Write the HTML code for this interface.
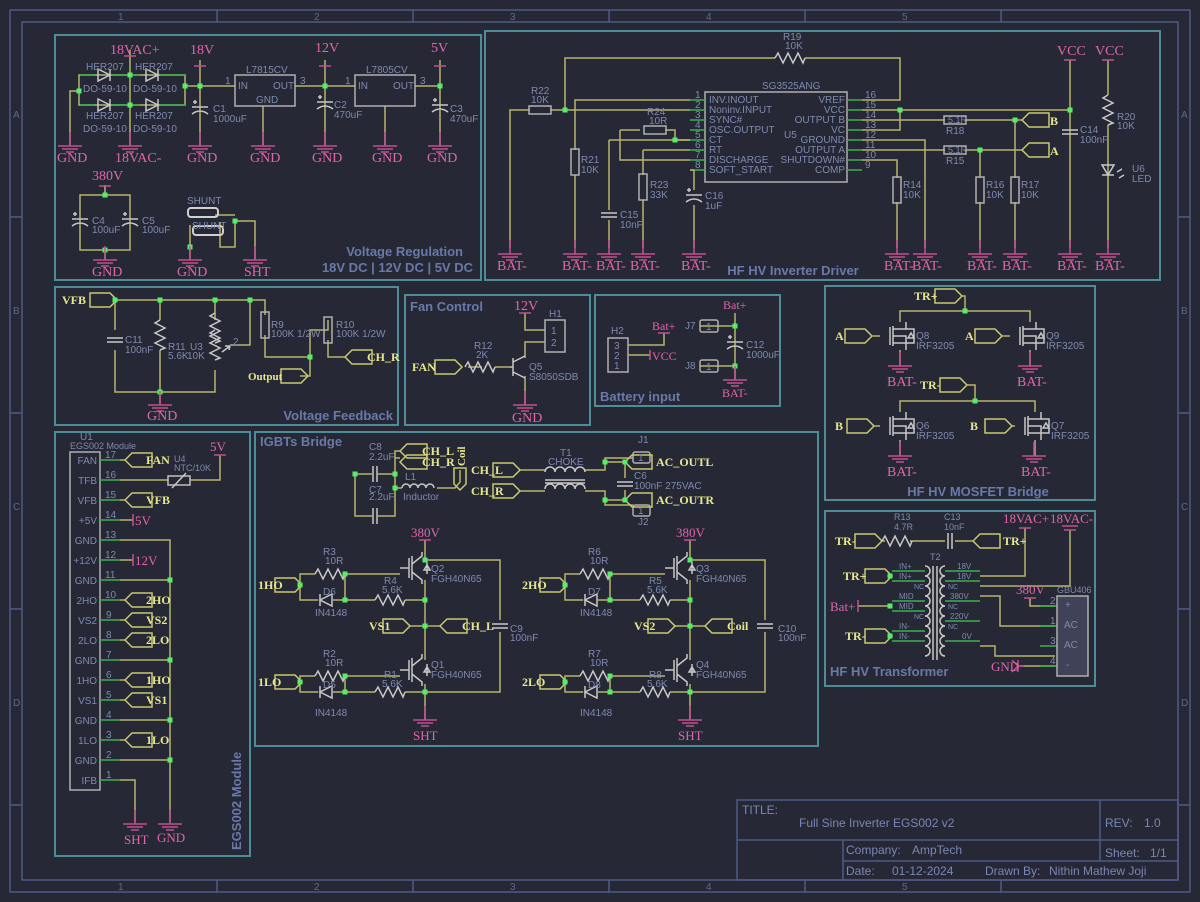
<!DOCTYPE html>
<html><head><meta charset="utf-8"><style>
html,body{margin:0;padding:0;background:#262935;width:1200px;height:902px;overflow:hidden}
svg{display:block}
.w{stroke:#b5b56c;stroke-width:1.5;fill:none}
.gr{stroke:#3db04e;stroke-width:1.5;fill:none}
.p{stroke:#c2508f;stroke-width:1.5;fill:none}
.c{stroke:#c8c8c8;stroke-width:1.5;fill:none}
.fr{stroke:#4f5b86;stroke-width:1.5;fill:none}
.pn{stroke:#4e8c98;stroke-width:2;fill:none}
.t{font-family:"Liberation Sans",sans-serif;font-size:10px;fill:#7f89b0}
.pk{font-family:"Liberation Serif",serif;font-size:14px;fill:#e066aa}
.nl{font-family:"Liberation Serif",serif;font-size:12px;font-weight:bold;fill:#e6e690}
.ti{font-family:"Liberation Sans",sans-serif;font-size:13px;font-weight:bold;fill:#6a78aa}
.tb{font-family:"Liberation Sans",sans-serif;font-size:12px;fill:#7a86b4}
</style></head><body>
<svg width="1200" height="902" viewBox="0 0 1200 902" xmlns="http://www.w3.org/2000/svg">
<defs>
<g id="gnd" class="p"><line x1="0" y1="-14" x2="0" y2="0"/><line x1="-12" y1="0" x2="12" y2="0"/><line x1="-8" y1="3" x2="8" y2="3"/><line x1="-4" y1="6" x2="4" y2="6"/></g>
<g id="rz" class="c"><path d="M-15,0 l3,-5 l5,10 l5,-10 l5,10 l5,-10 l5,10 l2,-5"/></g>
<g id="rzv" class="c"><path d="M0,-15 l-5,3 l10,5 l-10,5 l10,5 l-10,5 l10,5 l-5,2"/></g>
<g id="rb"><rect x="-4" y="-13" width="8" height="26" fill="none" stroke="#b0b0b0" stroke-width="1.5"/></g>
<g id="rbh"><rect x="-11" y="-4" width="22" height="8" fill="none" stroke="#b0b0b0" stroke-width="1.5"/></g>
<g id="fr"><path d="M0,-7 h20 l7,7 l-7,7 h-20 z" fill="none" stroke="#c8c870" stroke-width="1.5"/></g>
<g id="fl"><path d="M0,0 l7,-7 h20 v14 h-20 z" fill="none" stroke="#c8c870" stroke-width="1.5"/></g>
<g id="cv" class="c"><line x1="-8" y1="-2" x2="8" y2="-2"/><line x1="-8" y1="2" x2="8" y2="2"/></g>
<g id="ch" class="c"><line x1="-2" y1="-8" x2="-2" y2="8"/><line x1="2" y1="-8" x2="2" y2="8"/></g>
<g id="ce" class="c"><line x1="-8" y1="-3" x2="8" y2="-3"/><path d="M-8,4 q8,-6 16,0"/><line x1="-7" y1="-8" x2="-3" y2="-8"/><line x1="-5" y1="-10" x2="-5" y2="-6"/></g>
<g id="d"><rect x="-2.5" y="-2.5" width="5" height="5" fill="#55ee66"/></g>
<g id="dio" class="c"><path d="M-6,-6 L6,0 L-6,6 Z M6,-6 V6"/></g>
<g id="mos" class="c"><line x1="-10" y1="-9" x2="-10" y2="9"/><line x1="-7" y1="-10" x2="-7" y2="10"/><path d="M-7,-7 H6 V-14 M-7,7 H6 V14 M-7,0 H6 V7 M6,-7 H14 V7 H6 M11,-3 l3,5 h-6z"/></g>
<g id="igbt" class="c"><line x1="-13" y1="-10" x2="-13" y2="10"/><line x1="-10" y1="-12" x2="-10" y2="12"/><path d="M-10,-4 L0,-12 V-16 M-10,4 L0,12 V16 M-22,0 H-13"/><path d="M5,-6 v12 M2,2 h6 l-3,-5z"/></g>
</defs>

<!-- frame -->
<rect x="10" y="10" width="1180" height="882" class="fr"/>
<rect x="22" y="22" width="1156" height="858" class="fr"/>
<g class="fr"><line x1="217" y1="10" x2="217" y2="22"/><line x1="413" y1="10" x2="413" y2="22"/><line x1="609" y1="10" x2="609" y2="22"/><line x1="805" y1="10" x2="805" y2="22"/><line x1="1001" y1="10" x2="1001" y2="22"/>
<line x1="217" y1="880" x2="217" y2="892"/><line x1="413" y1="880" x2="413" y2="892"/><line x1="609" y1="880" x2="609" y2="892"/><line x1="805" y1="880" x2="805" y2="892"/><line x1="1001" y1="880" x2="1001" y2="892"/>
<line x1="10" y1="217" x2="22" y2="217"/><line x1="10" y1="413" x2="22" y2="413"/><line x1="10" y1="609" x2="22" y2="609"/><line x1="10" y1="805" x2="22" y2="805"/>
<line x1="1178" y1="217" x2="1190" y2="217"/><line x1="1178" y1="413" x2="1190" y2="413"/><line x1="1178" y1="609" x2="1190" y2="609"/><line x1="1178" y1="805" x2="1190" y2="805"/></g>
<g class="t" font-size="9" style="fill:#5d6890"><text x="118" y="20">1</text><text x="314" y="20">2</text><text x="510" y="20">3</text><text x="706" y="20">4</text><text x="902" y="20">5</text>
<text x="118" y="890">1</text><text x="314" y="890">2</text><text x="510" y="890">3</text><text x="706" y="890">4</text><text x="902" y="890">5</text>
<text x="13" y="118">A</text><text x="13" y="314">B</text><text x="13" y="510">C</text><text x="13" y="706">D</text>
<text x="1181" y="118">A</text><text x="1181" y="314">B</text><text x="1181" y="510">C</text><text x="1181" y="706">D</text></g>

<!-- title block -->
<g class="fr"><rect x="737" y="800" width="441" height="80"/><line x1="737" y1="840" x2="1178" y2="840"/><line x1="843" y1="840" x2="843" y2="880"/><line x1="843" y1="861" x2="1178" y2="861"/><line x1="1100" y1="800" x2="1100" y2="861"/></g>
<text class="tb" x="742" y="814" font-size="11">TITLE:</text>
<text class="tb" x="799" y="827" font-size="13">Full Sine Inverter EGS002 v2</text>
<text class="tb" x="1105" y="827">REV:</text><text class="tb" x="1144" y="827" font-size="13">1.0</text>
<text class="tb" x="846" y="854" font-size="11">Company:</text><text class="tb" x="912" y="854" font-size="13">AmpTech</text>
<text class="tb" x="1105" y="857" font-size="11">Sheet:</text><text class="tb" x="1150" y="857" font-size="13">1/1</text>
<text class="tb" x="846" y="875" font-size="11">Date:</text><text class="tb" x="892" y="875" font-size="13">01-12-2024</text>
<text class="tb" x="985" y="875" font-size="11">Drawn By:</text><text class="tb" x="1049" y="875" font-size="13">Nithin Mathew Joji</text>

<!-- panels -->
<g class="pn"><rect x="55" y="35" width="426" height="245"/><rect x="485" y="31" width="675" height="249"/><rect x="55" y="287" width="343" height="138"/><rect x="405" y="295" width="185" height="130"/><rect x="595" y="295" width="185" height="111"/><rect x="825" y="286" width="270" height="214"/><rect x="825" y="511" width="270" height="175"/><rect x="55" y="432" width="195" height="424"/><rect x="255" y="432" width="563" height="314"/></g>

<!-- ===== Voltage Regulation ===== -->
<g class="w"><path d="M79,75 H185 V105 H79 Z"/><path d="M70,146 V91 H79"/><path d="M130,50 V146"/><path d="M185,86 H235"/><path d="M200,60 V146"/><path d="M295,86 H355"/><path d="M325,60 V146"/><path d="M415,86 H440"/><path d="M440,60 V146"/><path d="M263,106 V146"/><path d="M385,106 V146"/>
<path d="M80,195 H130 V250 H80 Z"/><path d="M105,185 V195"/><path d="M105,250 V260"/><path d="M190,260 V247 M190,247 V225 M220,222 V247 H235 V221 H255 V260 M215,215 H235"/></g>
<g class="gr"><path d="M80,75 H95 M110,75 H140 M160,75 H185 M80,105 H95 M110,105 H140 M160,105 H185"/></g>
<use href="#dio" x="104" y="75"/><use href="#dio" x="152" y="75"/><use href="#dio" x="104" y="105"/><use href="#dio" x="152" y="105"/>
<rect x="235" y="75" width="60" height="31" fill="none" stroke="#b0b0b0" stroke-width="1.5"/>
<rect x="355" y="75" width="60" height="31" fill="none" stroke="#b0b0b0" stroke-width="1.5"/>
<rect x="188" y="208" width="30" height="9" rx="3" fill="none" stroke="#d0d0d0" stroke-width="2"/><rect x="193" y="226" width="30" height="9" rx="3" fill="none" stroke="#d0d0d0" stroke-width="2"/>
<use href="#ce" x="200" y="110"/><use href="#ce" x="325" y="105"/><use href="#ce" x="440" y="108"/><use href="#ce" x="80" y="222"/><use href="#ce" x="130" y="222"/>
<g><use href="#d" x="79" y="91"/><use href="#d" x="130" y="75"/><use href="#d" x="130" y="105"/><use href="#d" x="185" y="86"/><use href="#d" x="200" y="86"/><use href="#d" x="325" y="86"/><use href="#d" x="440" y="86"/><use href="#d" x="105" y="195"/><use href="#d" x="105" y="250"/><use href="#d" x="235" y="221"/><use href="#d" x="190" y="247"/></g>
<g class="p"><path d="M124,56 H136 M194,66 H206 M319,66 H331 M434,66 H446 M99,186 H111"/></g>
<use href="#gnd" x="70" y="146"/><use href="#gnd" x="130" y="146"/><use href="#gnd" x="200" y="146"/><use href="#gnd" x="263" y="146"/><use href="#gnd" x="325" y="146"/><use href="#gnd" x="385" y="146"/><use href="#gnd" x="440" y="146"/><use href="#gnd" x="105" y="260"/><use href="#gnd" x="190" y="260"/><use href="#gnd" x="255" y="260"/>
<g class="pk"><text x="110" y="54">18VAC+</text><text x="190" y="54">18V</text><text x="315" y="52">12V</text><text x="431" y="52">5V</text><text x="57" y="162">GND</text><text x="115" y="162">18VAC-</text><text x="187" y="162">GND</text><text x="250" y="162">GND</text><text x="312" y="162">GND</text><text x="372" y="162">GND</text><text x="427" y="162">GND</text><text x="92" y="180">380V</text><text x="92" y="276">GND</text><text x="177" y="276">GND</text><text x="244" y="276">SHT</text></g>
<g class="t"><text x="86" y="70">HER207</text><text x="135" y="70">HER207</text><text x="83" y="92">DO-59-10</text><text x="133" y="92">DO-59-10</text><text x="86" y="119">HER207</text><text x="135" y="119">HER207</text><text x="83" y="132">DO-59-10</text><text x="133" y="132">DO-59-10</text>
<text x="246" y="73">L7815CV</text><text x="366" y="73">L7805CV</text><text x="238" y="89">IN</text><text x="273" y="89">OUT</text><text x="256" y="103">GND</text><text x="358" y="89">IN</text><text x="393" y="89">OUT</text>
<text x="225" y="84">1</text><text x="300" y="84">3</text><text x="345" y="84">1</text><text x="420" y="84">3</text>
<text x="213" y="112">C1</text><text x="213" y="122">1000uF</text><text x="334" y="108">C2</text><text x="334" y="118">470uF</text><text x="450" y="112">C3</text><text x="450" y="122">470uF</text><text x="92" y="224">C4</text><text x="92" y="233">100uF</text><text x="142" y="224">C5</text><text x="142" y="233">100uF</text><text x="187" y="204">SHUNT</text><text x="192" y="229">SHUNT</text></g>
<text class="ti" x="463" y="256" text-anchor="end">Voltage Regulation</text>
<text class="ti" x="473" y="272" text-anchor="end">18V DC | 12V DC | 5V DC</text>

<!-- ===== Inverter driver ===== -->
<rect x="705" y="92" width="142" height="90" fill="none" stroke="#b0b0b0" stroke-width="1.5"/>
<g class="gr"><path d="M690,100 H705 M690,110 H705 M690,120 H705 M690,130 H705 M690,140 H705 M690,150 H705 M690,160 H705 M690,170 H705 M847,100 H862 M847,110 H862 M847,120 H862 M847,130 H862 M847,140 H862 M847,150 H862 M847,160 H862 M847,170 H862"/></g>
<g class="w"><path d="M565,110 V58 H775 M805,58 H900 V100 H862"/><path d="M510,248 V110 H530 M550,110 H690"/><path d="M575,150 V100 H690"/><path d="M575,175 V248"/><path d="M620,130 H640 M665,130 H675 V140 H690 M620,130 V160 H690"/><path d="M609,140 H690 M609,140 V210 M609,220 V248"/><path d="M643,150 H690 M643,150 V175 M643,200 V248"/><path d="M694,170 H690 M694,170 V190 M694,205 V248"/>
<path d="M862,110 H1070 M862,130 H900 V110"/><path d="M862,120 H945 M965,120 H1022"/><path d="M862,150 H945 M965,150 H1022"/><path d="M862,140 H925 V248"/><path d="M862,160 H897 V178 M897,202 V248"/><path d="M980,150 V178 M980,202 V248"/><path d="M1015,120 V178 M1015,202 V248"/><path d="M1070,60 V248"/><path d="M1108,60 V95 M1108,125 V248"/></g>
<use href="#rz" x="790" y="58"/><use href="#rbh" x="540" y="110"/><use href="#rb" x="575" y="162"/><use href="#rbh" x="655" y="130"/><use href="#rb" x="643" y="187"/><use href="#cv" x="609" y="215"/><use href="#ce" x="694" y="198"/><use href="#rb" x="897" y="190"/><use href="#rbh" x="955" y="120"/><use href="#rbh" x="955" y="150"/><use href="#rb" x="980" y="190"/><use href="#rb" x="1015" y="190"/><use href="#cv" x="1070" y="132"/><use href="#rzv" x="1108" y="110"/>
<g class="c"><path d="M1102,165 h12 l-6,10 z M1102,175 h12"/><path d="M1117,172 l5,-3 M1119,178 l5,-3"/></g>
<use href="#fl" x="1022" y="120"/><use href="#fl" x="1022" y="150"/>
<g><use href="#d" x="565" y="110"/><use href="#d" x="675" y="140"/><use href="#d" x="900" y="110"/><use href="#d" x="1070" y="110"/><use href="#d" x="1015" y="120"/><use href="#d" x="980" y="150"/></g>
<g class="p"><path d="M1064,60 H1076 M1102,60 H1114"/></g>
<use href="#gnd" x="510" y="254"/><use href="#gnd" x="575" y="254"/><use href="#gnd" x="609" y="254"/><use href="#gnd" x="643" y="254"/><use href="#gnd" x="694" y="254"/><use href="#gnd" x="897" y="254"/><use href="#gnd" x="925" y="254"/><use href="#gnd" x="980" y="254"/><use href="#gnd" x="1015" y="254"/><use href="#gnd" x="1070" y="254"/><use href="#gnd" x="1108" y="254"/>
<g class="pk"><text x="497" y="270">BAT-</text><text x="562" y="270">BAT-</text><text x="596" y="270">BAT-</text><text x="630" y="270">BAT-</text><text x="681" y="270">BAT-</text><text x="884" y="270">BAT-</text><text x="912" y="270">BAT-</text><text x="967" y="270">BAT-</text><text x="1002" y="270">BAT-</text><text x="1057" y="270">BAT-</text><text x="1095" y="270">BAT-</text><text x="1057" y="55">VCC</text><text x="1095" y="55">VCC</text></g>
<g class="nl"><text x="1050" y="125">B</text><text x="1050" y="155">A</text></g>
<g class="t"><text x="762" y="89">SG3525ANG</text><text x="783" y="40">R19</text><text x="785" y="49">10K</text><text x="531" y="94">R22</text><text x="531" y="103">10K</text><text x="581" y="163">R21</text><text x="581" y="173">10K</text><text x="647" y="115">R24</text><text x="649" y="124">10R</text><text x="650" y="188">R23</text><text x="650" y="198">33K</text><text x="620" y="218">C15</text><text x="620" y="228">10nF</text><text x="705" y="199">C16</text><text x="705" y="209">1uF</text>
<text x="709" y="103">INV.INOUT</text><text x="709" y="113">Noninv.INPUT</text><text x="709" y="123">SYNC#</text><text x="709" y="133">OSC.OUTPUT</text><text x="784" y="138">U5</text><text x="709" y="143">CT</text><text x="709" y="153">RT</text><text x="709" y="163">DISCHARGE</text><text x="709" y="173">SOFT_START</text>
<g text-anchor="end"><text x="845" y="103">VREF</text><text x="845" y="113">VCC</text><text x="845" y="123">OUTPUT B</text><text x="845" y="133">VC</text><text x="845" y="143">GROUND</text><text x="845" y="153">OUTPUT A</text><text x="845" y="163">SHUTDOWN#</text><text x="845" y="173">COMP</text></g>
<text x="695" y="98">1</text><text x="695" y="108">2</text><text x="695" y="118">3</text><text x="695" y="128">4</text><text x="695" y="138">5</text><text x="695" y="148">6</text><text x="695" y="158">7</text><text x="695" y="168">8</text><text x="865" y="98">16</text><text x="865" y="108">15</text><text x="865" y="118">14</text><text x="865" y="128">13</text><text x="865" y="138">12</text><text x="865" y="148">11</text><text x="865" y="158">10</text><text x="865" y="168">9</text>
<text x="948" y="123" font-size="9">5.1R</text><text x="948" y="153" font-size="9">5.1R</text><text x="946" y="134">R18</text><text x="946" y="164">R15</text><text x="903" y="188">R14</text><text x="903" y="198">10K</text><text x="986" y="188">R16</text><text x="986" y="198">10K</text><text x="1021" y="188">R17</text><text x="1021" y="198">10K</text><text x="1080" y="133">C14</text><text x="1080" y="143">100nF</text><text x="1117" y="120">R20</text><text x="1117" y="129">10K</text><text x="1132" y="172">U6</text><text x="1132" y="182">LED</text></g>
<text class="ti" x="793" y="275" text-anchor="middle">HF HV Inverter Driver</text>

<!-- ===== Voltage Feedback ===== -->
<use href="#fr" x="90" y="300"/>
<g class="w"><path d="M117,300 H265 V315 M265,335 V357 H310 V330 H328 V320 M328,340 V357 H345"/><path d="M115,300 V330 M115,350 V392 H215 V370 M160,300 V320 M160,350 V392 M215,300 V320 M250,300 V345 H230"/><path d="M160,392 V405"/><path d="M300,376 H310 V357"/></g>
<use href="#fl" x="345" y="357"/><use href="#fr" x="281" y="376"/>
<use href="#cv" x="115" y="340"/><use href="#rzv" x="160" y="335"/><use href="#rzv" x="215" y="328"/><use href="#rzv" x="215" y="345"/><use href="#rb" x="265" y="325"/><use href="#rb" x="328" y="330"/>
<path d="M222,352 l8,-6 M230,346 l-5,0 M230,346 l-1,4" class="c"/>
<g><use href="#d" x="115" y="300"/><use href="#d" x="160" y="300"/><use href="#d" x="215" y="300"/><use href="#d" x="250" y="300"/><use href="#d" x="160" y="392"/><use href="#d" x="310" y="357"/></g>
<use href="#gnd" x="160" y="405"/>
<g class="pk"><text x="147" y="420">GND</text></g>
<g class="nl"><text x="62" y="304">VFB</text><text x="248" y="380" font-size="11">Output</text><text x="367" y="361">CH_R</text></g>
<g class="t"><text x="125" y="343">C11</text><text x="125" y="353">100nF</text><text x="168" y="350">R11</text><text x="168" y="359">5.6K</text><text x="190" y="350">U3</text><text x="187" y="359">10K</text><text x="271" y="328">R9</text><text x="271" y="337">100K 1/2W</text><text x="336" y="328">R10</text><text x="336" y="337">100K 1/2W</text><text x="233" y="345">2</text></g>
<text class="ti" x="393" y="420" text-anchor="end">Voltage Feedback</text>

<!-- ===== Fan Control ===== -->
<g class="w"><path d="M525,313 V330 H545 M545,342 H525 V358 M482,367 H468 M495,367 H510 M525,376 V405"/></g>
<rect x="545" y="320" width="20" height="32" fill="none" stroke="#b0b0b0" stroke-width="1.5"/>
<use href="#fr" x="435" y="367"/><use href="#rz" x="480" y="367"/>
<g class="c"><path d="M513,358 V376 M513,367 H510 M513,362 L525,356 M513,372 L525,378"/></g>
<g class="p"><path d="M519,313 H531"/></g><use href="#gnd" x="525" y="405"/>
<text class="pk" x="514" y="310">12V</text><text class="pk" x="512" y="422">GND</text>
<text class="nl" x="412" y="371">FAN</text>
<g class="t"><text x="549" y="317">H1</text><text x="551" y="334">1</text><text x="551" y="346">2</text><text x="474" y="349">R12</text><text x="476" y="358">2K</text><text x="529" y="370">Q5</text><text x="529" y="380">S8050SDB</text></g>
<text class="ti" x="410" y="311">Fan Control</text>

<!-- ===== Battery ===== -->
<rect x="608" y="338" width="20" height="34" fill="none" stroke="#b0b0b0" stroke-width="1.5"/>
<g class="w"><path d="M628,345 H664 V333 M628,355 H650 M700,326 H735 M700,366 H735 M735,313 V380"/></g>
<g class="p"><path d="M658,333 H670 M650,350 V360"/></g>
<rect x="700" y="320" width="18" height="12" rx="2" fill="none" stroke="#b0b0b0" stroke-width="1.5"/><rect x="700" y="360" width="18" height="12" rx="2" fill="none" stroke="#b0b0b0" stroke-width="1.5"/>
<use href="#ce" x="735" y="345"/><use href="#d" x="735" y="326"/><use href="#d" x="735" y="366"/>
<use href="#gnd" x="735" y="380"/>
<g class="pk"><text x="723" y="309" font-size="12">Bat+</text><text x="652" y="330" font-size="12">Bat+</text><text x="652" y="360" font-size="12">VCC</text><text x="722" y="397" font-size="12">BAT-</text></g>
<g class="t"><text x="611" y="334">H2</text><text x="614" y="349">3</text><text x="614" y="359">2</text><text x="614" y="369">1</text><text x="685" y="329">J7</text><text x="685" y="369">J8</text><text x="706" y="330">1</text><text x="706" y="370">1</text><text x="746" y="348">C12</text><text x="746" y="358">1000uF</text></g>
<text class="ti" x="600" y="401">Battery input</text>

<!-- ===== MOSFET bridge ===== -->
<use href="#fr" x="935" y="296"/><use href="#fr" x="845" y="336"/><use href="#fr" x="975" y="336"/><use href="#fr" x="940" y="385"/><use href="#fr" x="847" y="426"/><use href="#fr" x="985" y="426"/>
<g class="w"><path d="M962,296 H965 V311 H900 V322 M965,311 H1030 V322 M900,350 V366 M1030,350 V366"/><path d="M967,385 H975 V401 H900 V412 M975,401 H1035 V412 M900,440 V456 M1035,440 V456"/><path d="M872,336 H880 M1002,336 H1010 M874,426 H880 M1012,426 H1015"/></g>
<use href="#mos" x="900" y="336"/><use href="#mos" x="1030" y="336"/><use href="#mos" x="900" y="426"/><use href="#mos" x="1035" y="426"/>
<use href="#d" x="965" y="311"/><use href="#d" x="975" y="401"/>
<use href="#gnd" x="900" y="366"/><use href="#gnd" x="1030" y="366"/><use href="#gnd" x="900" y="456"/><use href="#gnd" x="1034" y="456"/>
<g class="pk"><text x="887" y="386">BAT-</text><text x="1017" y="386">BAT-</text><text x="887" y="476">BAT-</text><text x="1021" y="476">BAT-</text></g>
<g class="nl"><text x="914" y="300">TR+</text><text x="920" y="389">TR-</text><text x="835" y="340">A</text><text x="965" y="340">A</text><text x="835" y="430">B</text><text x="970" y="430">B</text></g>
<g class="t"><text x="916" y="339">Q8</text><text x="916" y="349">IRF3205</text><text x="1046" y="339">Q9</text><text x="1046" y="349">IRF3205</text><text x="916" y="429">Q6</text><text x="916" y="439">IRF3205</text><text x="1051" y="429">Q7</text><text x="1051" y="439">IRF3205</text></g>
<text class="ti" x="978" y="496" text-anchor="middle">HF HV MOSFET Bridge</text>

<!-- ===== Transformer ===== -->
<use href="#fr" x="855" y="541"/><use href="#fl" x="973" y="541"/><use href="#fr" x="865" y="576"/><use href="#fr" x="865" y="636"/>
<g class="w"><path d="M882,541 H885 M910,541 H945 M955,541 H973 M1025,528 V576 H980 M1070,530 V586 H980 M980,596 H1000 V626 H1055 M980,646 H995 V656 H1055 M1030,598 V606 H1055 M1020,666 H1055"/><path d="M858,606 H890"/></g>
<use href="#rz" x="897" y="541"/><use href="#ch" x="950" y="541"/>
<g class="c"><line x1="933" y1="566" x2="933" y2="660"/><line x1="937" y1="566" x2="937" y2="660"/>
<path d="M925,566 a5,5 0 0 1 0,10 a5,5 0 0 1 0,10 a5,5 0 0 1 0,10 a5,5 0 0 1 0,10 a5,5 0 0 1 0,10 a5,5 0 0 1 0,10 a5,5 0 0 1 0,10 a5,5 0 0 1 0,10 a5,5 0 0 1 0,10"/>
<path d="M945,566 a5,5 0 0 0 0,10 a5,5 0 0 0 0,10 a5,5 0 0 0 0,10 a5,5 0 0 0 0,10 a5,5 0 0 0 0,10 a5,5 0 0 0 0,10 a5,5 0 0 0 0,10 a5,5 0 0 0 0,10 a5,5 0 0 0 0,10"/></g>
<g class="gr"><path d="M892,571 H925 M892,581 H925 M892,601 H925 M892,611 H925 M892,631 H925 M892,641 H925 M945,571 H980 M945,581 H980 M945,601 H980 M945,621 H980 M945,641 H980 M1040,606 H1060 M1040,626 H1060 M1040,646 H1060 M1040,666 H1060"/></g>
<rect x="1057" y="596" width="31" height="80" fill="#404358" stroke="#b0b0b0" stroke-width="1.5"/>
<use href="#d" x="890" y="576"/><use href="#d" x="890" y="606"/><use href="#d" x="890" y="636"/>
<g class="p"><path d="M1019,528 H1031 M1062,526 H1078 M1064,530 H1076 M1024,598 H1036 M858,600 V612"/><path d="M1018,660 V672 M1018,666 L1024,666 M1012,660 L1018,666 L1012,672"/></g>
<g class="pk"><text x="1003" y="523" font-size="13">18VAC+</text><text x="1050" y="523" font-size="13">18VAC-</text><text x="1016" y="594" font-size="13">380V</text><text x="830" y="611" font-size="13">Bat+</text><text x="991" y="671" font-size="13">GND</text></g>
<g class="nl"><text x="835" y="545">TR-</text><text x="1003" y="545">TR+</text><text x="843" y="580">TR+</text><text x="845" y="640">TR-</text></g>
<g class="t"><text x="894" y="520" font-size="9">R13</text><text x="894" y="530" font-size="9">4.7R</text><text x="944" y="520" font-size="9">C13</text><text x="944" y="530" font-size="9">10nF</text><text x="930" y="560" font-size="9">T2</text><text x="1057" y="593" font-size="9">GBU406</text>
<text x="899" y="569" font-size="8">IN+</text><text x="899" y="579" font-size="8">IN+</text><text x="914" y="589" font-size="7">NC</text><text x="899" y="599" font-size="8">MID</text><text x="899" y="609" font-size="8">MID</text><text x="914" y="619" font-size="7">NC</text><text x="899" y="629" font-size="8">IN-</text><text x="899" y="639" font-size="8">IN-</text>
<text x="957" y="569" font-size="8">18V</text><text x="957" y="579" font-size="8">18V</text><text x="948" y="589" font-size="7">NC</text><text x="950" y="599" font-size="8">380V</text><text x="948" y="609" font-size="7">NC</text><text x="950" y="619" font-size="8">220V</text><text x="948" y="629" font-size="7">NC</text><text x="962" y="639" font-size="8">0V</text>
<text x="1050" y="604">2</text><text x="1050" y="624">1</text><text x="1050" y="644">3</text><text x="1050" y="664">4</text><text x="1065" y="608" font-size="10">+</text><text x="1064" y="628" font-size="10">AC</text><text x="1064" y="648" font-size="10">AC</text><text x="1066" y="668" font-size="10">-</text></g>
<text class="ti" x="830" y="676">HF HV Transformer</text>

<!-- ===== EGS002 ===== -->
<rect x="70" y="452" width="30" height="338" fill="none" stroke="#b0b0b0" stroke-width="1.5"/>
<g class="gr"><path d="M100,460 H120 M100,480 H120 M100,500 H120 M100,520 H120 M100,540 H120 M100,560 H120 M100,580 H120 M100,600 H120 M100,620 H120 M100,640 H120 M100,660 H120 M100,680 H120 M100,700 H120 M100,720 H120 M100,740 H120 M100,760 H120 M100,780 H120"/></g>
<g class="w"><path d="M120,460 H125 M120,480 H168 M190,480 H220 V455 M120,500 H125 M120,520 H133 M120,540 H170 V822 M120,560 H133 M120,580 H170 M120,600 H125 M120,620 H125 M120,640 H125 M120,660 H170 M120,680 H125 M120,700 H125 M120,720 H170 M120,740 H125 M120,760 H170 M120,780 H135 V822"/></g>
<use href="#fl" x="125" y="460"/><use href="#fl" x="125" y="500"/><use href="#fl" x="125" y="600"/><use href="#fl" x="125" y="620"/><use href="#fl" x="125" y="640"/><use href="#fl" x="125" y="680"/><use href="#fl" x="125" y="700"/><use href="#fl" x="125" y="740"/>
<rect x="168" y="476" width="22" height="9" fill="none" stroke="#c0c0c0" stroke-width="1.5"/><path d="M172,488 L186,473" class="c" stroke-width="1"/>
<g class="p"><path d="M133,514 V526 M133,554 V566 M214,455 H226"/></g>
<g><use href="#d" x="170" y="580"/><use href="#d" x="170" y="660"/><use href="#d" x="170" y="720"/><use href="#d" x="170" y="760"/></g>
<use href="#gnd" x="135" y="824"/><use href="#gnd" x="170" y="824"/>
<g class="pk"><text x="124" y="844" font-size="13">SHT</text><text x="157" y="842" font-size="13">GND</text><text x="135" y="525" font-size="13">5V</text><text x="135" y="565" font-size="13">12V</text><text x="210" y="451" font-size="13">5V</text></g>
<g class="nl"><text x="146" y="464">FAN</text><text x="146" y="504">VFB</text><text x="146" y="604">2HO</text><text x="146" y="624">VS2</text><text x="146" y="644">2LO</text><text x="146" y="684">1HO</text><text x="146" y="704">VS1</text><text x="146" y="744">1LO</text></g>
<g class="t"><text x="80" y="440">U1</text><text x="70" y="449" font-size="9">EGS002 Module</text><text x="174" y="462" font-size="9">U4</text><text x="174" y="471" font-size="9">NTC/10K</text>
<g text-anchor="end"><text x="97" y="464">FAN</text><text x="97" y="484">TFB</text><text x="97" y="504">VFB</text><text x="97" y="524">+5V</text><text x="97" y="544">GND</text><text x="97" y="564">+12V</text><text x="97" y="584">GND</text><text x="97" y="604">2HO</text><text x="97" y="624">VS2</text><text x="97" y="644">2LO</text><text x="97" y="664">GND</text><text x="97" y="684">1HO</text><text x="97" y="704">VS1</text><text x="97" y="724">GND</text><text x="97" y="744">1LO</text><text x="97" y="764">GND</text><text x="97" y="784">IFB</text></g>
<text x="105" y="458">17</text><text x="105" y="478">16</text><text x="105" y="498">15</text><text x="105" y="518">14</text><text x="105" y="538">13</text><text x="105" y="558">12</text><text x="105" y="578">11</text><text x="105" y="598">10</text><text x="106" y="618">9</text><text x="106" y="638">8</text><text x="106" y="658">7</text><text x="106" y="678">6</text><text x="106" y="698">5</text><text x="106" y="718">4</text><text x="106" y="738">3</text><text x="106" y="758">2</text><text x="106" y="778">1</text></g>
<text class="ti" transform="translate(241,850) rotate(-90)">EGS002 Module</text>

<!-- ===== IGBT bridge ===== -->
<text class="ti" x="260" y="446">IGBTs Bridge</text>
<g class="w"><path d="M355,474 H372 M378,474 H395 M355,474 V516 H372 M378,516 H395 V474 M395,488 H402 M437,488 H455 L460,482 V470"/><path d="M395,474 V458 H400 M395,458 V451 H400"/>
<path d="M520,470 H545 M585,470 H605 V458 H633 M605,462 H625 M520,491 H545 M585,491 H605 V505 H633 M605,500 H625 M625,462 V478 M625,490 V500"/></g>
<use href="#ch" x="375" y="474"/><use href="#ch" x="375" y="516"/>
<use href="#fl" x="400" y="451"/><use href="#fl" x="400" y="462"/>
<path d="M454,468 V484 l6,6 l6,-6 V468 z" fill="none" stroke="#c8c870" stroke-width="1.5"/>
<g class="c"><path d="M402,488 a4,4 0 0 1 8,0 a4,4 0 0 1 8,0 a4,4 0 0 1 8,0 a4,4 0 0 1 8,0"/><path d="M545,472 a5,5 0 0 1 10,0 a5,5 0 0 1 10,0 a5,5 0 0 1 10,0 a5,5 0 0 1 10,0 M545,489 a5,5 0 0 1 10,0 a5,5 0 0 1 10,0 a5,5 0 0 1 10,0 a5,5 0 0 1 10,0 M545,480 H585 M545,483 H585"/></g>
<use href="#fr" x="493" y="470"/><use href="#fr" x="493" y="491"/>
<use href="#cv" x="625" y="484"/>
<rect x="633" y="452" width="17" height="11" rx="2" fill="none" stroke="#b0b0b0" stroke-width="1.5"/><rect x="633" y="505" width="17" height="11" rx="2" fill="none" stroke="#b0b0b0" stroke-width="1.5"/>
<use href="#fl" x="625" y="462"/><use href="#fl" x="625" y="500"/>
<g><use href="#d" x="355" y="474"/><use href="#d" x="395" y="474"/><use href="#d" x="395" y="488"/><use href="#d" x="605" y="462"/><use href="#d" x="625" y="462"/><use href="#d" x="605" y="500"/><use href="#d" x="625" y="500"/></g>
<g class="nl"><text x="422" y="455">CH_L</text><text x="422" y="466">CH_R</text><text x="471" y="474">CH_L</text><text x="471" y="495">CH_R</text><text x="656" y="466">AC_OUTL</text><text x="656" y="504">AC_OUTR</text><text transform="translate(465,466) rotate(-90)" font-size="11">Coil</text></g>
<g class="t"><text x="369" y="450">C8</text><text x="369" y="460">2.2uF</text><text x="369" y="493">C7</text><text x="369" y="500">2.2uF</text><text x="405" y="480">L1</text><text x="403" y="500">Inductor</text><text x="560" y="456">T1</text><text x="548" y="465">CHOKE</text><text x="634" y="479">C6</text><text x="634" y="489">100nF 275VAC</text><text x="638" y="443">J1</text><text x="638" y="525">J2</text><text x="638" y="461">1</text><text x="638" y="514">1</text></g>

<g id="hb">
<g class="w"><path d="M425,540 V560 H500 V620 M500,632 V692 H425 M425,560 V555 M425,580 V660 M425,684 V720"/>
<path d="M300,585 V574 H315 M345,574 H400 M300,585 V600 H318 M333,600 H375 M405,600 H425 M345,574 V600"/>
<path d="M300,682 V676 H315 M345,676 H400 M300,682 V692 H318 M333,692 H375 M405,692 H425 M345,676 V692"/>
<path d="M410,626 H425 H440"/></g>
<use href="#igbt" x="422" y="568"/><use href="#igbt" x="422" y="670"/>
<use href="#rz" x="330" y="574"/><use href="#rz" x="390" y="600"/><use href="#rz" x="330" y="676"/><use href="#rz" x="390" y="692"/>
<g class="c"><path d="M332,594 L320,600 L332,606 Z M320,594 V606"/><path d="M332,686 L320,692 L332,698 Z M320,686 V698"/></g>
<use href="#cv" x="500" y="626"/>
<use href="#fr" x="275" y="585"/><use href="#fr" x="275" y="682"/><use href="#fr" x="383" y="626"/>
<use href="#d" x="425" y="560"/><use href="#d" x="425" y="600"/><use href="#d" x="425" y="626"/><use href="#d" x="425" y="692"/><use href="#d" x="345" y="574"/><use href="#d" x="345" y="600"/><use href="#d" x="345" y="676"/><use href="#d" x="345" y="692"/><use href="#d" x="300" y="585"/><use href="#d" x="300" y="682"/>
<g class="p"><path d="M419,540 H431"/></g>
<use href="#gnd" x="425" y="720"/>
</g>
<use href="#hb" x="265" y="0"/>
<use href="#fl" x="440" y="626"/><use href="#fl" x="705" y="626"/>
<g class="pk"><text x="411" y="537" font-size="13">380V</text><text x="676" y="537" font-size="13">380V</text><text x="413" y="740" font-size="13">SHT</text><text x="678" y="740" font-size="13">SHT</text></g>
<g class="nl"><text x="258" y="589">1HO</text><text x="258" y="686">1LO</text><text x="369" y="630">VS1</text><text x="462" y="630">CH_L</text><text x="522" y="589">2HO</text><text x="522" y="686">2LO</text><text x="634" y="630">VS2</text><text x="727" y="630">Coil</text></g>
<g class="t"><text x="323" y="555">R3</text><text x="325" y="564">10R</text><text x="323" y="595">D6</text><text x="315" y="616">IN4148</text><text x="384" y="584">R4</text><text x="382" y="593">5.6K</text><text x="431" y="572">Q2</text><text x="431" y="582">FGH40N65</text>
<text x="323" y="657">R2</text><text x="325" y="666">10R</text><text x="323" y="688">D5</text><text x="315" y="716">IN4148</text><text x="384" y="678">R1</text><text x="382" y="687">5.6K</text><text x="431" y="668">Q1</text><text x="431" y="678">FGH40N65</text><text x="510" y="632">C9</text><text x="510" y="641">100nF</text>
<text x="588" y="555">R6</text><text x="590" y="564">10R</text><text x="588" y="595">D7</text><text x="580" y="616">IN4148</text><text x="649" y="584">R5</text><text x="647" y="593">5.6K</text><text x="696" y="572">Q3</text><text x="696" y="582">FGH40N65</text>
<text x="588" y="657">R7</text><text x="590" y="666">10R</text><text x="588" y="688">D8</text><text x="580" y="716">IN4148</text><text x="649" y="678">R8</text><text x="647" y="687">5.6K</text><text x="696" y="668">Q4</text><text x="696" y="678">FGH40N65</text><text x="778" y="632">C10</text><text x="778" y="641">100nF</text></g>
</svg>
</body></html>
